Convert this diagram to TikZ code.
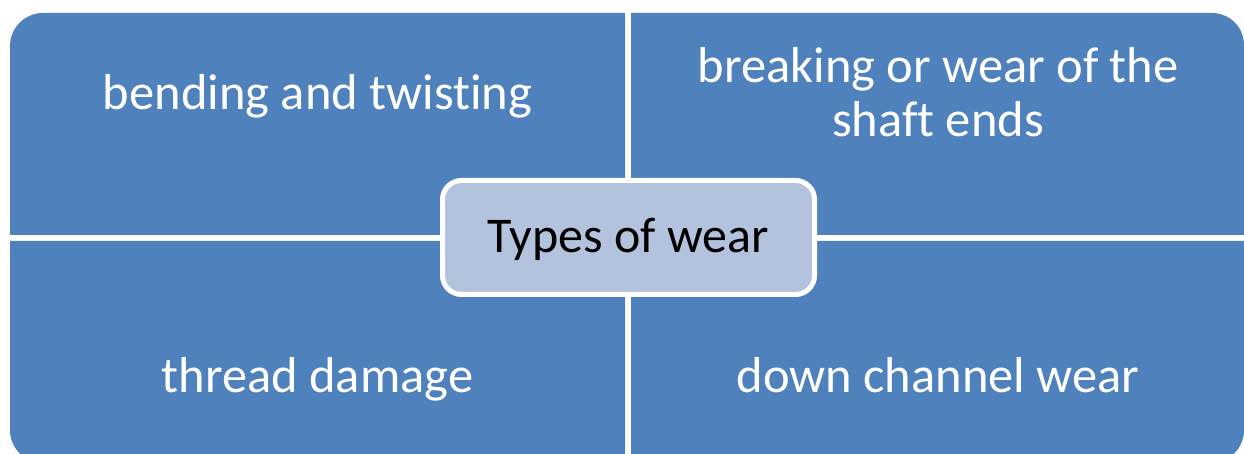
\documentclass[tikz,border=0pt]{standalone}
\usepackage{fontspec}
\setmainfont[Ligatures={NoCommon}]{Carlito}
\definecolor{quadblue}{RGB}{79,129,189}
\definecolor{coreblue}{RGB}{179,194,221}
\begin{document}
\begin{tikzpicture}[x=1pt,y=1pt,
  quad/.style={fill=quadblue},
  quadtext/.style={text=white,font=\fontsize{50.5}{54}\selectfont,anchor=base,inner sep=0pt,align=center},
  corebox/.style={fill=coreblue,draw=white,line width=5pt,rounded corners=19pt,
    minimum width=372pt,minimum height=114pt,inner sep=0pt,
    font=\fontsize{50}{54}\selectfont,text=black,text height=35pt,text depth=5pt}]
\useasboundingbox (0,0) rectangle (1244,454);
\fill[white] (0,0) rectangle (1244,454);
\clip (0,0) rectangle (1244,454);
% quadrants
\fill[quad] (10,219) -- (10,408) arc[start angle=180,end angle=90,radius=33] -- (625,441) -- (625,219) -- cycle;
\fill[quad] (631,219) -- (631,441) -- (1212,441) arc[start angle=90,end angle=0,radius=32] -- (1244,219) -- cycle;
\fill[quad] (10,213) -- (625,213) -- (625,-9) -- (43,-9) arc[start angle=270,end angle=180,radius=33] -- cycle;
\fill[quad] (631,213) -- (1244,213) -- (1244,24) arc[start angle=0,end angle=-90,radius=33] -- (631,-9) -- cycle;
% texts
\node[quadtext] (tl) at (317.5,344) {bending and twisting};
\node[quadtext] (tr) at (938,317.3) {breaking or wear of the\\shaft ends};
\node[quadtext] (bl) at (317.5,61.3) {thread damage};
\node[quadtext] (br) at (938,61.3) {down channel wear};
% center
\node[corebox] (core) at (628.5,216.5) {Types of wear};
\end{tikzpicture}
\end{document}
